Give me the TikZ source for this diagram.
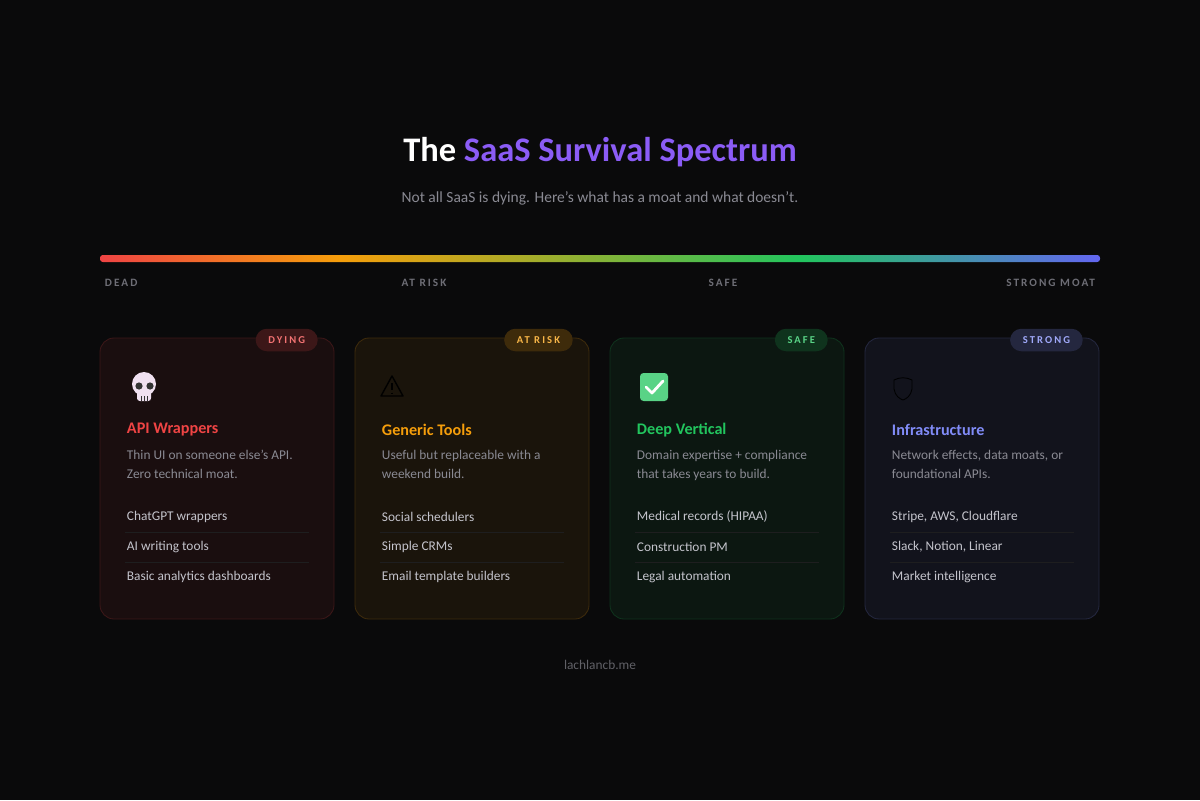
\documentclass[tikz,border=0pt]{standalone}
\usepackage{fontspec}
\setmainfont{Carlito}
\usetikzlibrary{positioning}
\definecolor{bg}{HTML}{0A0A0B}
\definecolor{deadc}{HTML}{EF4444}
\definecolor{riskc}{HTML}{F59E0B}
\definecolor{safec}{HTML}{22C55E}
\definecolor{strongc}{HTML}{818CF8}
\definecolor{titlec}{HTML}{8B5CF6}
\definecolor{barend}{HTML}{6366F1}
\definecolor{muted}{HTML}{8A8A93}
\definecolor{itemc}{HTML}{C4C4CC}
\pgfdeclarehorizontalshading{spectrum}{100bp}{
  color(0bp)=(deadc); color(25bp)=(deadc); color(37bp)=(riskc); color(46bp)=(riskc!65!safec);
  color(60bp)=(safec); color(75bp)=(barend); color(100bp)=(barend)}
\tikzset{
  card/.style={draw=#1!22!bg, fill=#1!7!bg, rounded corners=10pt, line width=0.6pt},
  badge/.style={fill=#1!22!bg, text=#1!75!white, rounded corners=8pt, minimum height=16pt,
    inner xsep=9pt, font=\fontsize{7.5}{9}\selectfont\bfseries\addfontfeature{LetterSpace=20}},
  cardtitle/.style={text=#1, font=\fontsize{11.5}{13}\selectfont\bfseries, anchor=west},
  desc/.style={text=muted, font=\fontsize{9.5}{13.5}\selectfont, anchor=north west, align=left},
  item/.style={text=itemc, font=\fontsize{9.5}{11}\selectfont, anchor=west},
  scalelabel/.style={text=muted!80!black, font=\fontsize{8}{9}\selectfont\bfseries\addfontfeature{LetterSpace=18}},
}
\newcommand{\drawcard}[9]{%
  % #1 x-left, #2 colour, #3 badge, #4 title, #5 desc, #6-#8 items, #9 name
  \draw[card=#2] (#1,338) rectangle ++(234,281);
  \node[badge=#2, anchor=east] (#9badge) at (#1+218,340) {#3};
  \node[cardtitle=#2] (#9title) at (#1+22,430) {#4};
  \node[desc] (#9desc) at (#1+22,445) {#5};
  \node[item] (#9a) at (#1+22,517) {#6};
  \node[item] (#9b) at (#1+22,547) {#7};
  \node[item] (#9c) at (#1+22,577) {#8};
  \draw[white!8!bg] (#1+25,532) -- (#1+209,532) (#1+25,562) -- (#1+209,562);
}
\begin{document}
\begin{tikzpicture}[x=0.025cm,y=-0.025cm]
  \fill[bg] (0,0) rectangle (1200,800);
  \useasboundingbox (0,0) rectangle (1200,800);

  % Title
  \node (title) at (600,152) {\fontsize{24.5}{28}\selectfont\bfseries
    \textcolor{white}{The} \textcolor{titlec}{SaaS Survival Spectrum}};
  \node[text=muted, font=\fontsize{11}{13}\selectfont] (sub) at (600,198)
    {Not all SaaS is dying. Here's what has a moat and what doesn't.};

  % Spectrum bar
  \shade[shading=spectrum, rounded corners=2pt] (100,255) rectangle (1100,262);
  \node[scalelabel, anchor=west] (dead) at (100,283) {DEAD};
  \node[scalelabel] (risk) at (424,283) {AT RISK};
  \node[scalelabel] (safe) at (723,283) {SAFE};
  \node[scalelabel, anchor=east] (moat) at (1100,283) {STRONG MOAT};

  % Cards
  \drawcard{100}{deadc}{DYING}{API Wrappers}{Thin UI on someone else's API.\\Zero technical moat.}{ChatGPT wrappers}{AI writing tools}{Basic analytics dashboards}{dying}
  \drawcard{355}{riskc}{AT RISK}{Generic Tools}{Useful but replaceable with a\\weekend build.}{Social schedulers}{Simple CRMs}{Email template builders}{generic}
  \drawcard{610}{safec}{SAFE}{Deep Vertical}{Domain expertise + compliance\\that takes years to build.}{Medical records (HIPAA)}{Construction PM}{Legal automation}{vertical}
  \drawcard{865}{strongc}{STRONG}{Infrastructure}{Network effects, data moats, or\\foundational APIs.}{Stripe, AWS, Cloudflare}{Slack, Notion, Linear}{Market intelligence}{infra}

  % Icons
  \fill[white!88!violet] (144,384) circle (12);
  \fill[white!88!violet, rounded corners=2pt] (137,390) rectangle (151,401);
  \fill[black!80] (139,386) circle (3.6) (150,386) circle (3.6);
  \draw[black!80, line width=0.5pt] (141,396) -- (141,401) (144,396) -- (144,401) (147,396) -- (147,401);
  \draw[black, line width=1pt, line join=round] (392,376) -- (381,396) -- (403,396) -- cycle;
  \draw[black, line width=1.2pt] (392,383) -- (392,390) (392,392.5) -- (392,393.5);
  \fill[safec!75!white, rounded corners=2.5pt] (640,373) rectangle (668,401);
  \draw[white, line width=2pt, line cap=round, line join=round] (646,387) -- (652,393) -- (663,381);
  \draw[black, line width=0.6pt] (894,380) .. controls (900,377) and (906,377) .. (912,380)
    -- (912,389) .. controls (911,396) and (906,399) .. (903,400)
    .. controls (900,399) and (895,396) .. (894,389) -- cycle;

  % Footer
  \node[text=muted!70!black, font=\fontsize{9.5}{11}\selectfont] (foot) at (600,665) {lachlancb.me};
\end{tikzpicture}
\end{document}
